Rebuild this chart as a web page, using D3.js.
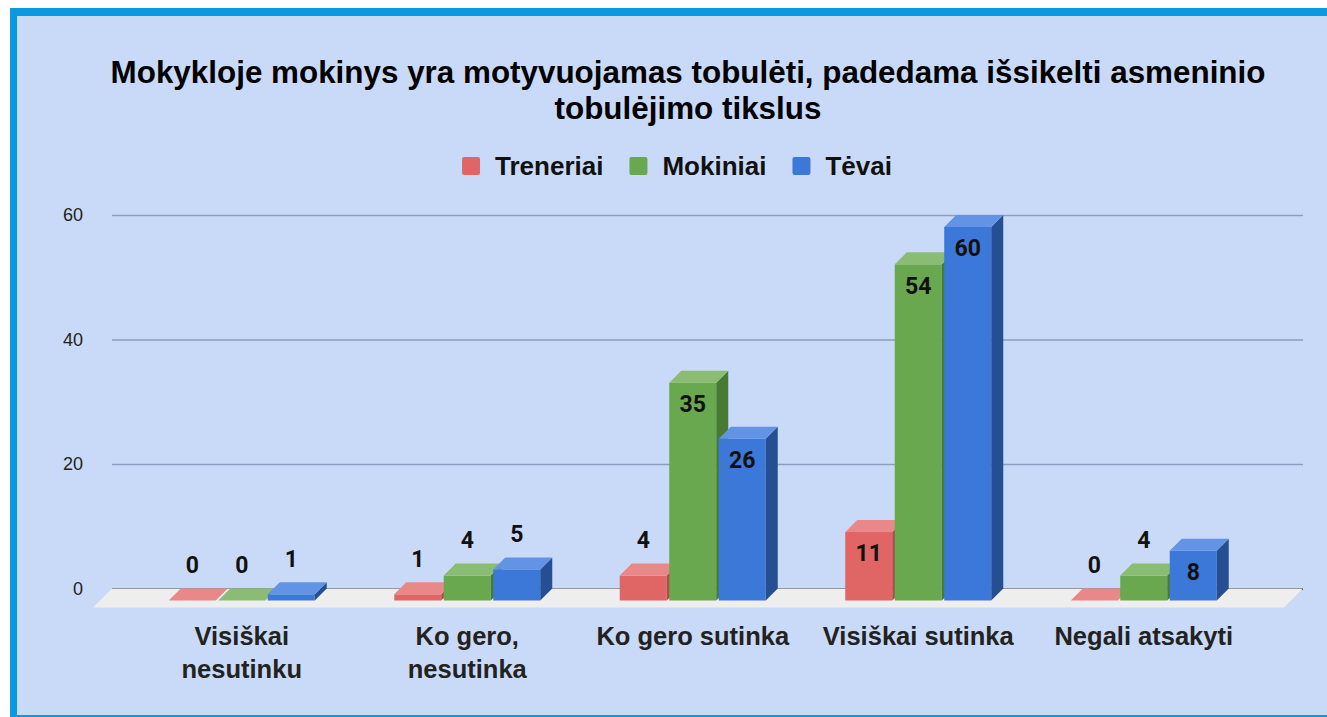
<!DOCTYPE html>
<html>
<head>
<meta charset="utf-8">
<script src="https://cdn.jsdelivr.net/npm/d3@7"></script>
<style>
	body { margin: 0; background: #ffffff; }
	svg { display: block; }
	text { font-family: "Liberation Sans", Arial, sans-serif; }
</style>
</head>
<body>
<svg id="chart"></svg>
<script>
var width = 1327;
var height = 717;

var titleLines = ["Mokykloje mokinys yra motyvuojamas tobulėti, padedama išsikelti asmeninio", "tobulėjimo tikslus"];
var categories = ["Visiškai nesutinku", "Ko gero, nesutinka", "Ko gero sutinka", "Visiškai sutinka", "Negali atsakyti"];
var categoryLabels = [["Visiškai", "nesutinku"], ["Ko gero,", "nesutinka"], ["Ko gero sutinka"], ["Visiškai sutinka"], ["Negali atsakyti"]];
var series = ["Treneriai", "Mokiniai", "Tėvai"];
var treneriai = [0, 1, 4, 11, 0];
var mokiniai = [0, 4, 35, 54, 4];
var tevai = [1, 5, 26, 60, 8];
var yTicks = [0, 20, 40, 60];

var values = [treneriai, mokiniai, tevai];
var colors = {
	"Treneriai": { front: "#e06666", top: "#e98888", side: "#b04c4c" },
	"Mokiniai": { front: "#6aa84f", top: "#8bbc73", side: "#477a33" },
	"Tėvai": { front: "#3c78d8", top: "#6393e4", side: "#254f92" }
};

// depth of the bars and of the floor (front is down-left of the back wall)
var depth = 12, floorDepth = 19;

var svg = d3.select("#chart").attr("width", width).attr("height", height);

// frame: blue border top, left and bottom
svg.append("rect").attr("x", 10).attr("y", 8).attr("width", width - 10).attr("height", height - 8).attr("fill", "#0b9ae0");
svg.append("rect").attr("x", 17).attr("y", 16).attr("width", width - 17).attr("height", height - 16 - 2).attr("fill", "#c9daf8");

var yScale = d3.scaleLinear().domain([0, 60]).range([588.5, 215]);
var xScale = d3.scaleBand().domain(categories).range([141, 1268.5]);
var xInner = d3.scaleBand().domain(series).range([0, 146]).paddingInner(0.05);
var groupPad = (xScale.bandwidth() - 146) / 2;

var gridLeft = 112, gridRight = 1303;

// title
svg.append("g").selectAll("text")
	.data(titleLines)
	.enter().append("text")
	.attr("x", 688)
	.attr("y", function(d, i) { return 83 + i * 36; })
	.attr("text-anchor", "middle")
	.style("font-size", "31.4px")
	.style("font-weight", "bold")
	.style("fill", "#000")
	.text(function(d) { return d; });

// legend
var legend = svg.append("g").attr("class", "legend");
var lx = 0;
series.forEach(function(s) {
	var item = legend.append("g").attr("transform", "translate(" + lx + ",0)");
	item.append("rect")
		.attr("x", 0).attr("y", -9)
		.attr("width", 18).attr("height", 18)
		.attr("rx", 2)
		.attr("fill", colors[s].front);
	var t = item.append("text")
		.attr("x", 33).attr("y", 9)
		.style("font-size", "26px")
		.style("font-weight", "bold")
		.style("fill", "#111")
		.text(s);
	lx += 33 + t.node().getComputedTextLength() + 26;
});
lx -= 26;
legend.attr("transform", "translate(" + (677 - lx / 2) + ",166)");

// gridlines on the back wall
var yAxis = d3.axisLeft(yScale).tickValues(yTicks).tickSize(-(gridRight - gridLeft)).tickPadding(29);
var gy = svg.append("g")
	.attr("class", "y axis")
	.attr("transform", "translate(" + gridLeft + ",0)")
	.call(yAxis);
gy.select(".domain").remove();
gy.selectAll(".tick line").attr("stroke", "#8c9dbf").attr("stroke-width", 1.5)
	.filter(function(d) { return d == 0; }).attr("stroke", "#111");
gy.selectAll(".tick text")
	.style("font-family", "'Liberation Sans', Arial, sans-serif")
	.style("font-size", "18px")
	.style("fill", "#222");

// floor
svg.append("path")
	.attr("fill", "#eeeeee")
	.attr("d", "M" + gridLeft + "," + yScale(0) + "L" + gridRight + "," + yScale(0) +
		"L" + (gridRight - floorDepth) + "," + (yScale(0) + floorDepth) +
		"L" + (gridLeft - floorDepth) + "," + (yScale(0) + floorDepth) + "Z");

// bars, drawn left to right so the next front face covers the previous side
var bars = [];
categories.forEach(function(c, ci) {
	series.forEach(function(s, si) {
		bars.push({ cat: c, series: s, value: values[si][ci] });
	});
});

var barW = xInner.bandwidth();
var gBars = svg.append("g").attr("class", "bars");

bars.forEach(function(d) {
	var x = xScale(d.cat) + groupPad + xInner(d.series) - depth;
	var yTop = yScale(d.value) + depth;
	var yBot = yScale(0) + depth;
	var col = colors[d.series];
	var g = gBars.append("g");
	if (d.value > 0) {
		g.append("rect")
			.attr("x", x).attr("y", yTop)
			.attr("width", barW).attr("height", yBot - yTop)
			.attr("fill", col.front);
		g.append("path")
			.attr("fill", col.side)
			.attr("d", "M" + (x + barW) + "," + yTop + "L" + (x + barW + depth) + "," + (yTop - depth) +
				"L" + (x + barW + depth) + "," + (yBot - depth) + "L" + (x + barW) + "," + yBot + "Z");
	}
	g.append("path")
		.attr("fill", col.top)
		.attr("d", "M" + x + "," + yTop + "L" + (x + depth) + "," + (yTop - depth) +
			"L" + (x + barW + depth) + "," + (yTop - depth) + "L" + (x + barW) + "," + yTop + "Z");
	d.cx = x + barW / 2;
	d.inside = (yBot - yTop) >= 40;
	d.ly = d.inside ? yTop + 21 : yTop - depth - 24;
});

// data labels
svg.append("g").selectAll("text")
	.data(bars)
	.enter().append("text")
	.attr("x", function(d) { return d.cx; })
	.attr("y", function(d) { return d.ly; })
	.attr("dy", "0.36em")
	.attr("text-anchor", "middle")
	.style("font-family", "Roboto, sans-serif")
	.style("font-size", "23px")
	.style("font-weight", "bold")
	.style("fill", "#111")
	.text(function(d) { return d.value; });

// category labels under the front of each group
var gx = svg.append("g").attr("class", "x labels");
categories.forEach(function(c, ci) {
	var t = gx.append("text")
		.attr("x", xScale(c) + xScale.bandwidth() / 2 - depth)
		.attr("y", 645)
		.attr("text-anchor", "middle")
		.style("font-size", "25.5px")
		.style("font-weight", "bold")
		.style("fill", "#222");
	t.selectAll("tspan")
		.data(categoryLabels[ci])
		.enter().append("tspan")
		.attr("x", xScale(c) + xScale.bandwidth() / 2 - depth)
		.attr("dy", function(d, i) { return i == 0 ? 0 : 33; })
		.text(function(d) { return d; });
});
</script>
</body>
</html>
